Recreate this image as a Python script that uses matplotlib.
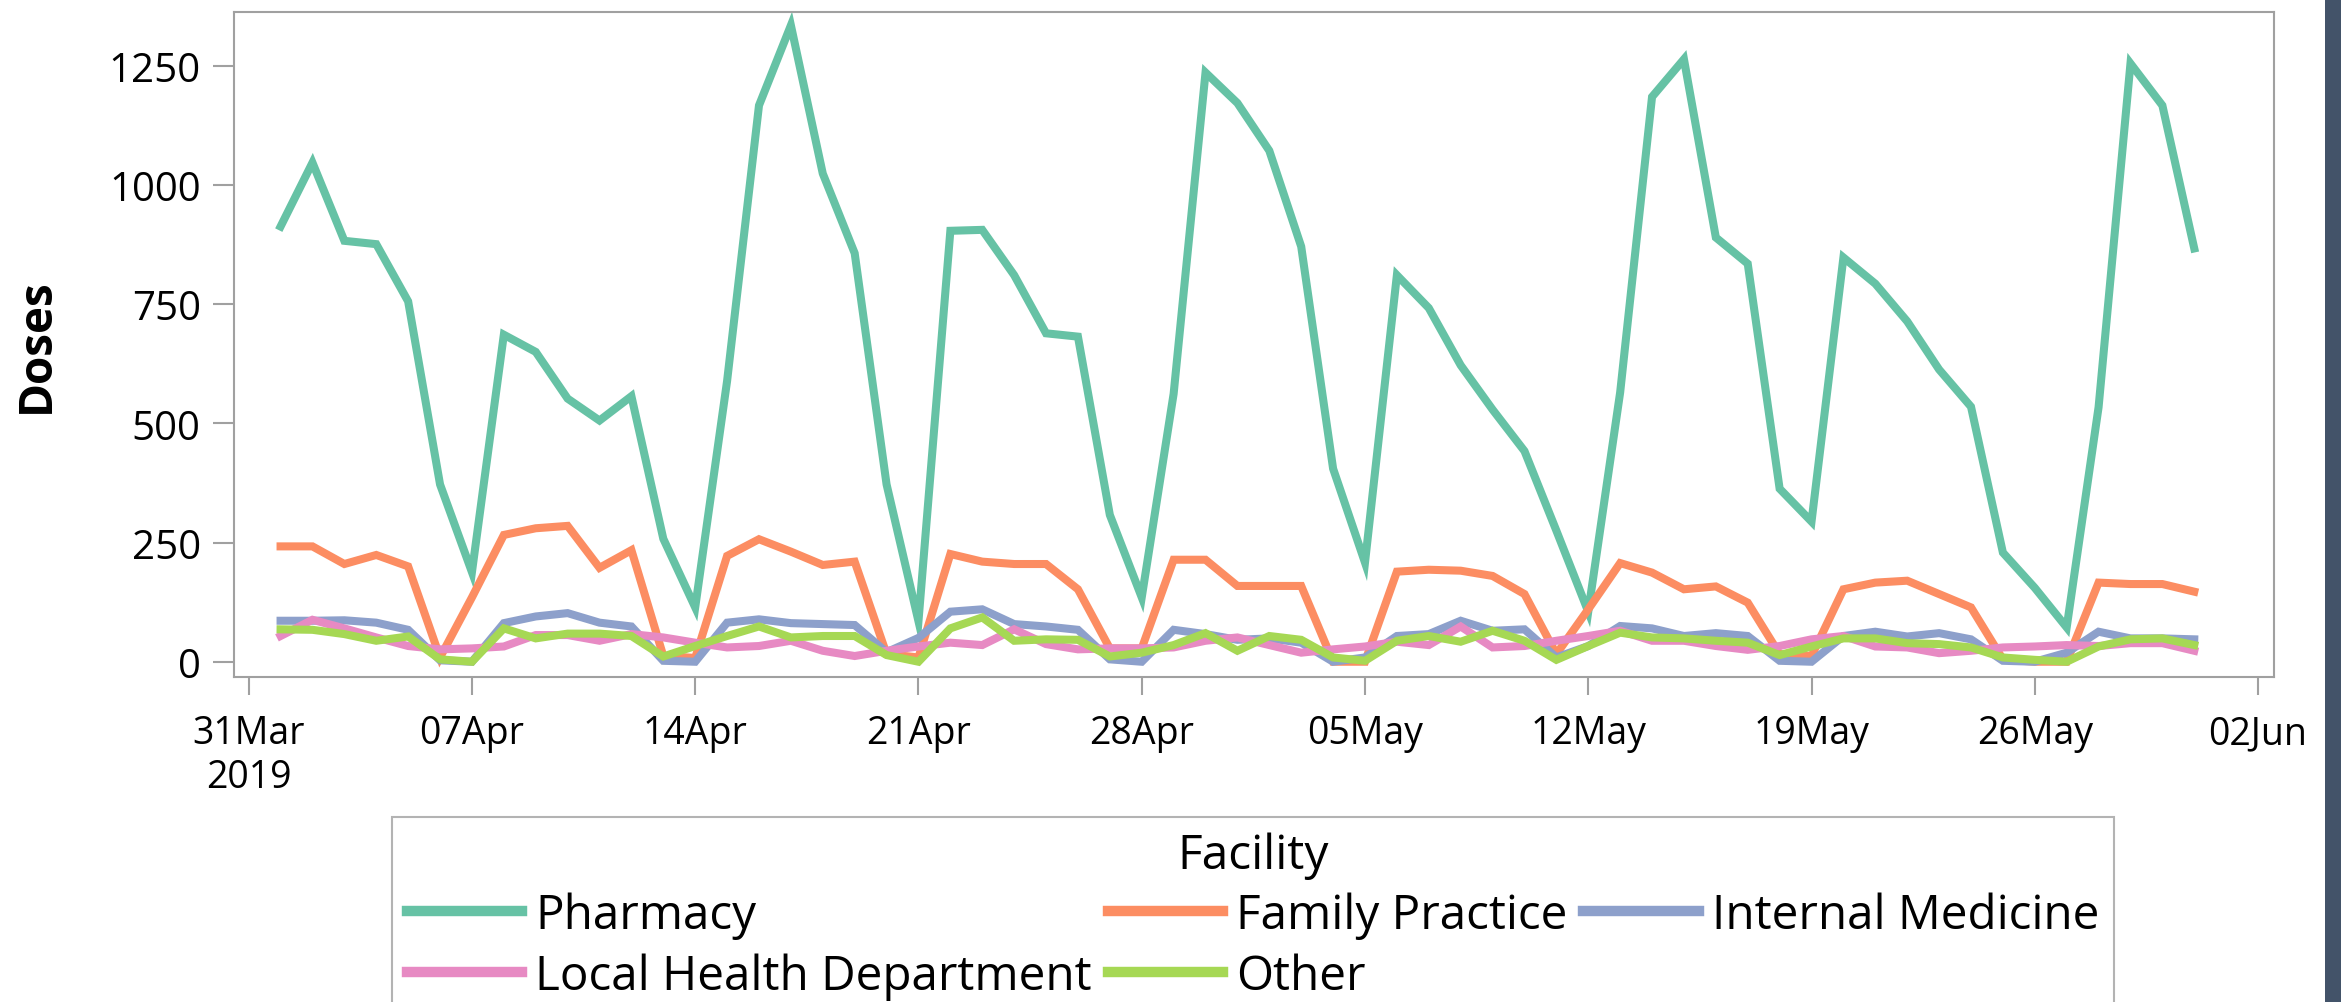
import matplotlib
matplotlib.use("Agg")
import matplotlib.pyplot as plt
import matplotlib.dates as mdates
from matplotlib.patches import Rectangle
import pandas as pd

dates = pd.date_range("2019-04-01", "2019-05-31", freq="D")

pharmacy = [913, 1047, 883, 876, 756, 372, 188, 686, 650, 552, 506, 557, 258, 114, 589,
            1167, 1335, 1024, 857, 372, 85, 904, 906, 811, 689, 682, 308, 135, 562, 1236,
            1172, 1072, 871, 405, 208, 811, 742, 622, 529, 442, 275, 105, 565, 1185, 1264,
            890, 835, 363, 294, 848, 793, 714, 613, 535, 229, 155, 72, 534, 1255, 1167, 867]
family_practice = [242, 242, 205, 224, 200, 9, 135, 266, 280, 285, 197, 234, 12, 8, 222,
                   257, 231, 203, 210, 16, 9, 226, 210, 205, 205, 152, 28, 28, 214, 214,
                   159, 159, 159, 0, 0, 189, 193, 191, 180, 142, 16, 110, 207, 187, 152,
                   158, 124, 16, 12, 152, 166, 170, 142, 114, 5, 0, 0, 166, 163, 163, 147]
internal_medicine = [86, 86, 87, 82, 67, 3, 0, 81, 95, 102, 82, 74, 2, 0, 82,
                     89, 81, 79, 77, 20, 50, 105, 110, 79, 74, 67, 5, 0, 67, 58,
                     46, 49, 40, 0, 9, 54, 58, 86, 65, 68, 9, 33, 75, 70, 54,
                     60, 54, 2, 0, 54, 63, 53, 60, 47, 2, 0, 19, 63, 49, 49, 47]
local_health = [54, 88, 70, 51, 33, 26, 28, 32, 56, 56, 44, 58, 51, 40, 30,
                33, 44, 23, 12, 23, 32, 40, 35, 68, 37, 26, 28, 28, 30, 44,
                51, 35, 19, 26, 32, 42, 35, 74, 30, 33, 44, 54, 65, 44, 44,
                33, 25, 33, 47, 54, 32, 30, 18, 23, 30, 32, 35, 33, 39, 39, 23]
other = [68, 67, 58, 44, 53, 5, 0, 70, 49, 59, 59, 54, 11, 33, 54,
         74, 51, 54, 54, 14, 0, 70, 93, 44, 47, 46, 11, 19, 35, 60,
         23, 54, 46, 9, 2, 44, 54, 42, 65, 44, 4, 33, 61, 51, 49,
         44, 40, 14, 32, 49, 49, 39, 37, 30, 9, 4, 0, 32, 47, 49, 35]

series_names = ["Pharmacy", "Family Practice", "Internal Medicine",
                "Local Health Department", "Other"]
series_values = [pharmacy, family_practice, internal_medicine, local_health, other]
colors = ["#66c2a5", "#fc8d62", "#8da0cb", "#e78ac3", "#a6d854"]

y_ticks = [0, 250, 500, 750, 1000, 1250]
x_tick_dates = pd.date_range("2019-03-31", "2019-06-02", freq="7D")

plt.rcParams['font.family'] = ['Open Sans', 'DejaVu Sans']

W, H = 2341, 1003
fig = plt.figure(figsize=(W / 100, H / 100), dpi=100)
fig.patch.set_facecolor("white")

L, R, T, B = 234, 2274, 13, 678
ax = fig.add_axes([L / W, 1 - B / H, (R - L) / W, (B - T) / H])

handles = {}
for name, vals, c in zip(series_names, series_values, colors):
    ln, = ax.plot(dates, vals, color=c, lw=5.8, solid_joinstyle="miter", label=name)
    handles[name] = ln

ax.set_ylim(-32, 1363)
ax.set_yticks(y_ticks)
ax.set_xlim(pd.Timestamp("2019-03-31") - pd.Timedelta(days=0.46),
            pd.Timestamp("2019-06-02") + pd.Timedelta(days=0.5))
ax.set_xticks(x_tick_dates)
labels = [d.strftime("%d%b") for d in x_tick_dates]
labels[0] = labels[0] + "\n2019"
ax.set_xticklabels(labels, linespacing=1.2)

gray = "#a0a0a0"
for s in ax.spines.values():
    s.set_color(gray)
    s.set_linewidth(1.5)
ax.tick_params(axis="y", length=15, width=1.5, color=gray, labelsize=29, pad=9)
ax.tick_params(axis="x", length=13, width=1.5, color=gray, labelsize=27, pad=14)

ax.set_ylabel("Doses", fontsize=33, fontweight="bold")
ax.yaxis.set_label_coords(-0.0855, 0.5)

order = ["Pharmacy", "Local Health Department", "Family Practice", "Other",
         "Internal Medicine"]
leg = fig.legend([handles[n] for n in order], order, ncol=3, title="Facility",
                 loc="upper center", bbox_to_anchor=(1253 / W, 1 - 818 / H),
                 fontsize=34.3, title_fontsize=34.5, frameon=True, fancybox=False,
                 handlelength=2.43, handletextpad=0.27, columnspacing=0.33,
                 labelspacing=0.27, borderpad=0.3, borderaxespad=0)
leg.get_frame().set_edgecolor(gray)
leg.get_frame().set_linewidth(1.5)
for lh in leg.get_lines():
    lh.set_linewidth(7.5)

fig.patches.append(Rectangle((2325 / W, 0), 1 - 2325 / W, 1, transform=fig.transFigure,
                             facecolor="#435369", edgecolor="none", zorder=10))

fig.savefig("out.png", dpi=100, facecolor="white")
